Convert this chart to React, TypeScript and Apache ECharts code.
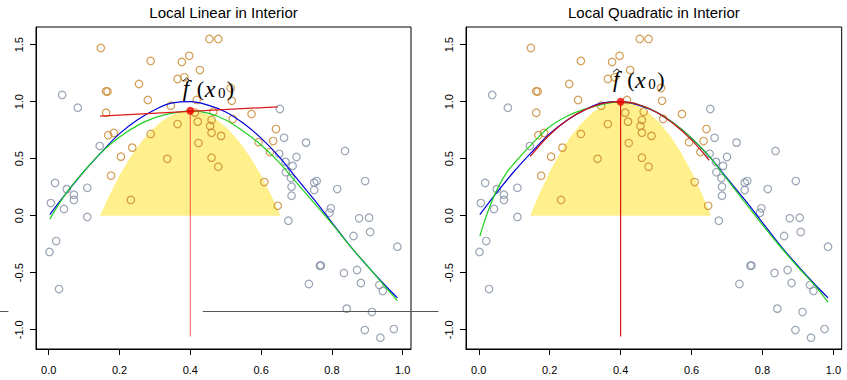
import React, { useEffect, useRef } from "react";
import * as echarts from "echarts";

const panelTitles = ["Local Linear in Interior", "Local Quadratic in Interior"];
const xTicks = [0, 0.2, 0.4, 0.6, 0.8, 1.0];
const yTicks = [-1, -0.5, 0, 0.5, 1, 1.5];

const x0 = 0.4;
const fHat = [0.92, 1.0];
const vlineBottom = -1.06;

// observations outside the kernel window (grey)
const outsidePoints: [number, number][] = [
  [0.002, -0.318], [0.006, 0.111], [0.018, 0.287], [0.021, -0.222], [0.029, -0.643],
  [0.038, 1.059], [0.043, 0.059], [0.051, 0.233], [0.071, 0.184], [0.071, 0.138],
  [0.082, 0.947], [0.109, 0.245], [0.109, -0.011], [0.144, 0.611],
  [0.653, 0.936], [0.665, 0.683], [0.651, 0.543], [0.669, 0.472], [0.689, 0.437],
  [0.670, 0.382], [0.684, 0.330], [0.686, 0.254], [0.686, 0.175], [0.677, -0.044],
  [0.700, 0.515], [0.727, 0.641], [0.750, 0.290], [0.757, 0.304], [0.750, 0.225],
  [0.815, 0.234], [0.837, 0.568], [0.894, 0.304], [0.797, 0.065], [0.793, 0.026],
  [0.877, -0.023], [0.905, -0.018], [0.908, -0.143], [0.861, -0.178], [0.985, -0.272],
  [0.766, -0.439], [0.769, -0.437], [0.834, -0.502], [0.871, -0.476], [0.735, -0.599],
  [0.882, -0.590], [0.934, -0.608], [0.944, -0.660], [0.842, -0.815], [0.913, -0.845],
  [0.893, -1.003], [0.975, -0.994], [0.937, -1.070],
];

// observations inside the kernel window (orange)
const insidePoints: [number, number][] = [
  [0.147, 1.471], [0.288, 1.357], [0.376, 1.348], [0.397, 1.402], [0.454, 1.550],
  [0.479, 1.550], [0.427, 1.277], [0.364, 1.199], [0.383, 1.214], [0.255, 1.155],
  [0.162, 1.091], [0.166, 1.089], [0.280, 1.015], [0.345, 0.965], [0.418, 1.015],
  [0.514, 1.120], [0.517, 1.008], [0.162, 0.903], [0.413, 0.904], [0.465, 0.912],
  [0.573, 0.892], [0.520, 0.848], [0.460, 0.839], [0.364, 0.804], [0.421, 0.825],
  [0.456, 0.787], [0.460, 0.728], [0.288, 0.717], [0.184, 0.726], [0.168, 0.706],
  [0.487, 0.700], [0.642, 0.760], [0.634, 0.655], [0.593, 0.645], [0.423, 0.637],
  [0.625, 0.558], [0.236, 0.597], [0.204, 0.518], [0.335, 0.499], [0.460, 0.509],
  [0.479, 0.430], [0.176, 0.351], [0.609, 0.295], [0.232, 0.138], [0.647, 0.087],
];

// true function (blue)
const curveX = [0.003, 0.05, 0.1, 0.15, 0.2, 0.25, 0.3, 0.35, 0.4, 0.45, 0.5, 0.55, 0.6, 0.65, 0.7, 0.75, 0.8, 0.85, 0.9, 0.95, 0.985];
const trueY = [0.01, 0.2, 0.39, 0.56, 0.72, 0.84, 0.93, 0.99, 1.0, 0.97, 0.91, 0.81, 0.68, 0.52, 0.33, 0.14, -0.06, -0.26, -0.44, -0.61, -0.72];

// local linear fit over the whole domain (green, left)
const linFitY = [-0.03, 0.2, 0.39, 0.56, 0.69, 0.79, 0.86, 0.9, 0.92, 0.9, 0.84, 0.74, 0.62, 0.47, 0.29, 0.11, -0.07, -0.26, -0.44, -0.62, -0.745];

// local quadratic fit over the whole domain (green, right)
const quadFitX = [0.003, 0.025, 0.05, 0.075, 0.1, 0.15, 0.2, 0.25, 0.3, 0.35, 0.4, 0.45, 0.5, 0.55, 0.6, 0.65, 0.7, 0.75, 0.8, 0.85, 0.9, 0.95, 0.985];
const quadFitY = [-0.18, 0.03, 0.22, 0.36, 0.46, 0.63, 0.78, 0.875, 0.935, 0.975, 1.0, 0.975, 0.91, 0.81, 0.68, 0.52, 0.32, 0.12, -0.08, -0.27, -0.45, -0.62, -0.76];

// local fits at x0 (red)
const localLinX = [0.145, 0.647];
const localLinY = [0.873, 0.955];
const localQuadX = [0.145, 0.2, 0.25, 0.3, 0.35, 0.4, 0.45, 0.5, 0.55, 0.6, 0.65];
const localQuadY = [0.52, 0.71, 0.84, 0.93, 0.985, 1.0, 0.975, 0.91, 0.805, 0.665, 0.485];

// kernel weights (yellow), scaled to fHat
const kernelX = [0.145, 0.155, 0.17, 0.2, 0.23, 0.26, 0.29, 0.32, 0.35, 0.38, 0.4, 0.42, 0.45, 0.48, 0.51, 0.54, 0.57, 0.6, 0.63, 0.645, 0.655];
const kernelW = [0, 0.077, 0.186, 0.385, 0.556, 0.699, 0.814, 0.902, 0.962, 0.994, 1, 0.994, 0.962, 0.902, 0.814, 0.699, 0.556, 0.385, 0.186, 0.077, 0];

// stray horizontal rules in the figure (left panel data coordinates)
const strayY = -0.833;
const straySegments: [number, number][] = [[-0.1376, -0.114], [0.435, 1.101]];

const GRAY = "#7f8da2";
const ORANGE = "#c7852b";
const YELLOW = "#fff08c";
const SANS = "Liberation Sans";
const SERIF = "Liberation Serif";

const zip = (xs: number[], ys: number[]) => xs.map((x, i) => [x, ys[i]]);

export default function App() {
  const ref = useRef<HTMLDivElement>(null);
  useEffect(() => {
    const el = ref.current!;
    const chart = echarts.init(el, undefined, { renderer: "svg" });
    const grids = [
      { left: 36, top: 27, width: 375, height: 322 },
      { left: 466, top: 27, width: 375.7, height: 322 },
    ];
    const series: any[] = [];
    [0, 1].forEach((i) => {
      const ax = { xAxisIndex: i, yAxisIndex: i };
      series.push({
        type: "line", ...ax, z: 1, symbol: "none", silent: true,
        data: kernelX.map((x, k) => [x, kernelW[k] * fHat[i]]),
        lineStyle: { width: 0 },
        areaStyle: { color: YELLOW, opacity: 1, origin: 0 },
      });
      series.push({
        type: "scatter", ...ax, z: 2, symbol: "circle", symbolSize: 7.5,
        data: outsidePoints,
        itemStyle: { color: "rgba(0,0,0,0)", borderColor: GRAY, borderWidth: 1.2 },
      });
      series.push({
        type: "scatter", ...ax, z: 2, symbol: "circle", symbolSize: 7.5,
        data: insidePoints,
        itemStyle: { color: "rgba(0,0,0,0)", borderColor: ORANGE, borderWidth: 1.2 },
      });
      series.push({
        type: "line", ...ax, z: 3, symbol: "none", smooth: 0.4,
        data: zip(curveX, trueY),
        lineStyle: { color: "#0000dd", width: 1.2 },
      });
      series.push({
        type: "line", ...ax, z: 3, symbol: "none", smooth: 0.4,
        data: i === 0 ? zip(curveX, linFitY) : zip(quadFitX, quadFitY),
        lineStyle: { color: "#1fd21f", width: 1.2 },
      });
      series.push({
        type: "line", ...ax, z: 4, symbol: "none", smooth: 0.4,
        data: i === 0 ? zip(localLinX, localLinY) : zip(localQuadX, localQuadY),
        lineStyle: { color: i === 0 ? "#e01a1a" : "#c8101e", width: 1.2 },
      });
      series.push({
        type: "line", ...ax, z: 4, symbol: "none",
        data: [[x0, vlineBottom], [x0, fHat[i]]],
        lineStyle: { color: i === 0 ? "rgba(240,30,30,0.6)" : "#e01414", width: 1.2 },
      });
      series.push({
        type: "scatter", ...ax, z: 5, symbol: "circle", symbolSize: 8,
        data: [[x0, fHat[i]]],
        itemStyle: { color: "#ee0000" },
      });
    });

    const option: any = {
      animation: false,
      backgroundColor: "#fff",
      grid: grids.map((g) => ({ ...g, show: true, borderColor: "#000", borderWidth: 1, backgroundColor: "transparent" })),
      xAxis: [0, 1].map((i) => ({
        type: "value", gridIndex: i, min: -0.036, max: 1.0235,
        splitLine: { show: false },
        axisLine: { show: true, onZero: false, lineStyle: { color: "#000", width: 1 } },
        axisTick: { show: true, customValues: xTicks, length: 6, lineStyle: { color: "#000" } },
        axisLabel: {
          customValues: xTicks, formatter: (v: number) => v.toFixed(1),
          fontSize: 11, color: "#000", fontFamily: SANS, margin: 15,
        },
      })),
      yAxis: [0, 1].map((i) => ({
        type: "value", gridIndex: i, min: -1.169, max: 1.655,
        splitLine: { show: false },
        axisLine: { show: true, onZero: false, lineStyle: { color: "#000", width: 1 } },
        axisTick: { show: true, customValues: yTicks, length: 6, lineStyle: { color: "#000" } },
        axisLabel: {
          customValues: yTicks, formatter: (v: number) => (Math.abs(v) < 1e-9 ? "0.0" : v.toFixed(1)),
          fontSize: 11, color: "#000", fontFamily: SANS, margin: 12, rotate: 90,
        },
      })),
      series,
    };
    chart.setOption(option);

    const graphics: any[] = [];
    [0, 1].forEach((i) => {
      const g = grids[i];
      graphics.push({
        type: "text", x: g.left + g.width / 2, y: 12.5,
        style: { text: panelTitles[i], fontSize: 15, fontFamily: SANS, fill: "#000", align: "center", verticalAlign: "middle" },
      });
      const p = chart.convertToPixel({ gridIndex: i }, [x0, fHat[i]]) as number[];
      const px = p[0];
      const py = p[1];
      const glyph = (text: string, dx: number, dy: number, size: number, italic: boolean) => ({
        type: "text", x: px + dx, y: py + dy, z: 10,
        style: { text, fontSize: size, fontFamily: SERIF, fontStyle: italic ? "italic" : "normal", fill: "#000", align: "center", verticalAlign: "middle" },
      });
      graphics.push(glyph("f", -4.3, -22, 23, true));
      graphics.push(glyph("(", 10.2, -22.5, 22, false));
      graphics.push(glyph("x", 19.7, -21.5, 24, true));
      graphics.push(glyph("0", 31.5, -17.5, 15, false));
      graphics.push(glyph(")", 40.2, -22.5, 22, false));
      graphics.push({
        type: "polyline", z: 10,
        shape: { points: [[px - 7.5, py - 29.5], [px - 3.7, py - 32.8], [px + 0.1, py - 29.5]] },
        style: { stroke: "#000", lineWidth: 0.9, fill: null },
      });
    });
    straySegments.forEach(([a, b]) => {
      const p1 = chart.convertToPixel({ gridIndex: 0 }, [a, strayY]) as number[];
      const p2 = chart.convertToPixel({ gridIndex: 0 }, [b, strayY]) as number[];
      graphics.push({
        type: "line", z: 10,
        shape: { x1: p1[0], y1: Math.round(p1[1]) + 0.5, x2: p2[0], y2: Math.round(p2[1]) + 0.5 },
        style: { stroke: "#555", lineWidth: 1 },
      });
    });
    chart.setOption({ graphic: graphics });

    return () => chart.dispose();
  }, []);
  return (
    <div
      ref={ref}
      style={{ position: "absolute", left: 0, top: 0, width: 847, height: 380, background: "#fff" }}
    />
  );
}
